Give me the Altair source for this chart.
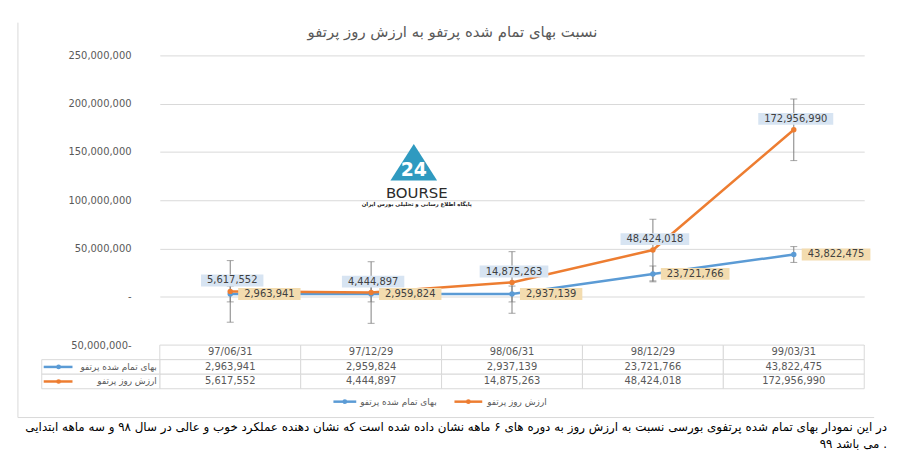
import altair as alt
import pandas as pd

# ---------------- data ----------------
dates = ["97/06/31", "97/12/29", "98/06/31", "98/12/29", "99/03/31"]
cost_name = "بهای تمام شده پرتفو"
value_name = "ارزش روز پرتفو"
cost = [2963941, 2959824, 2937139, 23721766, 43822475]
value = [5617552, 4444897, 14875263, 48424018, 172956990]
cost_err = 8200000      # error-bar half length
value_err = 31900000
y_ticks = [-50000000, 0, 50000000, 100000000, 150000000, 200000000, 250000000]
title_text = "نسبت بهای تمام شده پرتفو به ارزش روز پرتفو"
caption_1 = ("در این نمودار بهای تمام شده پرتفوی بورسی نسبت به ارزش روز به دوره های ۶ ماهه "
             "نشان داده شده است که نشان دهنده عملکرد خوب و عالی در سال ۹۸ و سه ماهه ابتدایی")
caption_2 = "\u2066۹۹\u2069 \u2066می باشد\u2069 ."
logo_text = "BOURSE"
logo_sub = "پایگاه اطلاع رسانی و تحلیلی بورس ایران"

BLUE = "#5b9bd5"
ORANGE = "#ed7d31"
GRID = "#d9d9d9"
TXT = "#595959"
FONT = "DejaVu Sans"


def fmt(v):
    return f"{v:,}"


def box_width(label):
    nd = sum(ch.isdigit() for ch in label)
    nc = label.count(",")
    return 6.36 * nd + 3.18 * nc + 12


rows = []
for d, c, v in zip(dates, cost, value):
    rows.append(dict(date=d, series=cost_name, val=c, err=cost_err))
    rows.append(dict(date=d, series=value_name, val=v, err=value_err))
df = pd.DataFrame(rows)
df["lo"] = df["val"] - df["err"]
df["hi"] = df["val"] + df["err"]
df["label"] = df["val"].map(fmt)
df["bw"] = df["label"].map(box_width)
df["bsize"] = df["bw"] ** 2
BOX_H = 12.0
df["rr"] = (BOX_H / df["bw"]).round(4)
df["cpath"] = df["rr"].map(lambda r: f"M-1,{-r}L1,{-r}L1,{r}L-1,{r}Z")
df["lpath"] = df["rr"].map(lambda r: f"M0,{-r}L2,{-r}L2,{r}L0,{r}Z")

df_cost = df[df.series == cost_name]
df_val = df[df.series == value_name]

dummy = pd.DataFrame({"a": [0]})

# ---------------- main panel ----------------
x_enc = alt.X("date:O", sort=dates,
              scale=alt.Scale(type="point", domain=dates, padding=0.5), axis=None)
y_scale = alt.Scale(domain=[-50000000, 250000000], nice=False, zero=False)
y_axis = alt.Axis(values=y_ticks, title=None, ticks=False, domain=False,
                  gridColor=GRID, labelPadding=29, labelFontSize=10,
                  labelColor=TXT, labelFont=FONT,
                  labelExpr="datum.value == 0 ? '-' : (datum.value < 0 ? format(-datum.value, ',') + '-' : format(datum.value, ','))")


def Y(field):
    return alt.Y(field, scale=y_scale, axis=y_axis)


err_rule = alt.Chart(df).mark_rule(color="#7f7f7f", strokeWidth=1).encode(
    x=x_enc, y=Y("lo:Q"), y2="hi:Q")
err_lo = alt.Chart(df).mark_tick(color="#7f7f7f", size=7, thickness=1).encode(
    x=x_enc, y=Y("lo:Q"))
err_hi = alt.Chart(df).mark_tick(color="#7f7f7f", size=7, thickness=1).encode(
    x=x_enc, y=Y("hi:Q"))

line_cost = alt.Chart(df_cost).mark_line(color=BLUE, strokeWidth=2.5).encode(x=x_enc, y=Y("val:Q"))
line_val = alt.Chart(df_val).mark_line(color=ORANGE, strokeWidth=2.5).encode(x=x_enc, y=Y("val:Q"))
pts_cost = alt.Chart(df_cost).mark_point(filled=True, size=30, opacity=1, color=BLUE).encode(
    x=x_enc, y=Y("val:Q"))
pts_val = alt.Chart(df_val).mark_point(filled=True, size=30, opacity=1, color=ORANGE).encode(
    x=x_enc, y=Y("val:Q"))

# labels of the value series: light-blue boxes above the point
box_val = alt.Chart(df_val).mark_point(filled=True, opacity=1, color="#d7e4f2",
                                       strokeWidth=0, xOffset=2, yOffset=-11).encode(
    x=x_enc, y=Y("val:Q"),
    shape=alt.Shape("cpath:N", scale=None), size=alt.Size("bsize:Q", scale=None))
txt_val = alt.Chart(df_val).mark_text(font=FONT, fontSize=10, color="#404040",
                                      xOffset=2, yOffset=-11).encode(
    x=x_enc, y=Y("val:Q"), text="label:N")

# labels of the cost series: tan boxes to the right of the point
box_cost = alt.Chart(df_cost).mark_point(filled=True, opacity=1, color="#f3dcaf",
                                         strokeWidth=0, xOffset=8).encode(
    x=x_enc, y=Y("val:Q"),
    shape=alt.Shape("lpath:N", scale=None), size=alt.Size("bsize:Q", scale=None))
txt_cost = alt.Chart(df_cost).mark_text(font=FONT, fontSize=10, color="#404040",
                                        align="left", xOffset=14).encode(
    x=x_enc, y=Y("val:Q"), text="label:N")

# decorations: border, title, logo
border_left = alt.Chart(dummy).mark_rule(color=GRID, strokeWidth=1).encode(
    x=alt.value(-143), y=alt.value(-33), y2=alt.value(292))
title = alt.Chart(dummy).mark_text(text=title_text, font=FONT, fontSize=15, color=TXT).encode(
    x=alt.value(295), y=alt.value(-24))
logo_tri = alt.Chart(dummy).mark_point(filled=True, opacity=1, color="#2f9ac0", size=2209,
                                       shape="M0,-0.8L1,0.77L-1,0.77Z", strokeWidth=0).encode(
    x=alt.value(256), y=alt.value(108))
logo_24 = alt.Chart(dummy).mark_text(text="24", font=FONT, fontSize=19, fontWeight="bold",
                                     color="white").encode(x=alt.value(256), y=alt.value(116))
logo_word = alt.Chart(dummy).mark_text(text=logo_text, font=FONT, fontSize=15,
                                       color="#2b2b2b").encode(x=alt.value(259), y=alt.value(139))
logo_small = alt.Chart(dummy).mark_text(text=logo_sub, font=FONT, fontSize=5.5, fontWeight="bold",
                                        color="#222222").encode(x=alt.value(259), y=alt.value(150))

main = alt.layer(
    border_left, title, logo_tri, logo_24, logo_word, logo_small,
    err_rule, err_lo, err_hi,
    line_cost, line_val, pts_cost, pts_val,
    box_val, txt_val, box_cost, txt_cost,
).properties(width=710, height=292)

# ---------------- data table panel ----------------
row_keys = ["h", "c", "v"]
trows = []
for d, c, v in zip(dates, cost, value):
    trows.append(dict(date=d, row="h", text=d))
    trows.append(dict(date=d, row="c", text=fmt(c)))
    trows.append(dict(date=d, row="v", text=fmt(v)))
tdf = pd.DataFrame(trows)
names_df = pd.DataFrame({"row": ["c", "v"], "name": [cost_name, value_name],
                         "col": [BLUE, ORANGE]})

tx = alt.X("date:N", sort=dates, scale=alt.Scale(domain=dates, paddingInner=0, paddingOuter=0),
           axis=None)
ty = alt.Y("row:N", scale=alt.Scale(domain=row_keys, paddingInner=0, paddingOuter=0), axis=None)

cells = alt.Chart(tdf).mark_rect(fill="white", stroke=GRID, strokeWidth=1).encode(x=tx, y=ty)
cell_txt = alt.Chart(tdf).mark_text(font=FONT, fontSize=10, color=TXT).encode(
    x=tx, y=ty, text="text:N")
name_cells = alt.Chart(names_df).mark_rect(fill="white", stroke=GRID, strokeWidth=1).encode(
    x=alt.value(-119), x2=alt.value(0), y=ty)
name_txt = alt.Chart(names_df).mark_text(font=FONT, fontSize=9, color=TXT, align="right").encode(
    x=alt.value(-3), y=ty, text="name:N")
key_lines = alt.Chart(names_df).mark_rule(strokeWidth=2.5).encode(
    x=alt.value(-117), x2=alt.value(-88), y=ty,
    color=alt.Color("col:N", scale=None))
key_pts = alt.Chart(names_df).mark_point(filled=True, size=22, opacity=1).encode(
    x=alt.value(-102), y=ty, color=alt.Color("col:N", scale=None))

# legend (below the table)
leg_b_line = alt.Chart(dummy).mark_rule(color=BLUE, strokeWidth=2.5).encode(
    x=alt.value(175), x2=alt.value(198), y=alt.value(57))
leg_b_pt = alt.Chart(dummy).mark_point(filled=True, size=22, opacity=1, color=BLUE).encode(
    x=alt.value(186.5), y=alt.value(57))
leg_b_txt = alt.Chart(dummy).mark_text(text=cost_name, font=FONT, fontSize=9, color=TXT,
                                       align="left").encode(x=alt.value(202), y=alt.value(57))
leg_o_line = alt.Chart(dummy).mark_rule(color=ORANGE, strokeWidth=2.5).encode(
    x=alt.value(297), x2=alt.value(325), y=alt.value(57))
leg_o_pt = alt.Chart(dummy).mark_point(filled=True, size=22, opacity=1, color=ORANGE).encode(
    x=alt.value(311), y=alt.value(57))
leg_o_txt = alt.Chart(dummy).mark_text(text=value_name, font=FONT, fontSize=9, color=TXT,
                                       align="left").encode(x=alt.value(330), y=alt.value(57))

border_left2 = alt.Chart(dummy).mark_rule(color=GRID, strokeWidth=1).encode(
    x=alt.value(-143), y=alt.value(0), y2=alt.value(73))
border_bottom = alt.Chart(dummy).mark_rule(color=GRID, strokeWidth=1).encode(
    x=alt.value(-143), x2=alt.value(720), y=alt.value(73))

cap1 = alt.Chart(dummy).mark_text(text=caption_1, font=FONT, fontSize=12, color="black",
                                  align="right", limit=875).encode(x=alt.value(733), y=alt.value(83))
cap2 = alt.Chart(dummy).mark_text(text=caption_2, font=FONT, fontSize=12, color="black",
                                  align="right", limit=875).encode(x=alt.value(733), y=alt.value(100))

table = alt.layer(
    cells, cell_txt, name_cells, name_txt, key_lines, key_pts,
    leg_b_line, leg_b_pt, leg_b_txt, leg_o_line, leg_o_pt, leg_o_txt,
    border_left2, border_bottom, cap1, cap2,
).properties(width=710, height=44)

chart = alt.vconcat(main, table, spacing=0, bounds="flush").properties(
    padding={"left": 9, "top": 12, "right": 5, "bottom": 5}
).configure(font=FONT).configure_view(strokeWidth=0)

chart.save("out.html", embed_options={"renderer": "svg", "actions": False})
